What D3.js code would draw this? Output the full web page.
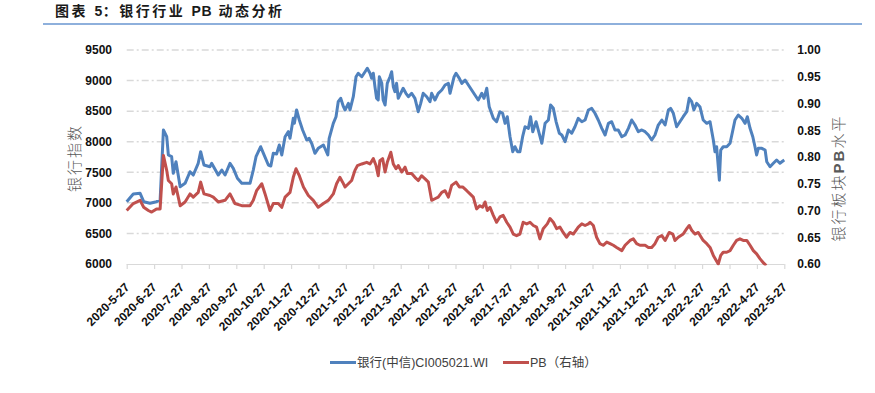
<!DOCTYPE html>
<html><head><meta charset="utf-8">
<script src="https://cdn.jsdelivr.net/npm/d3@7"></script>
<style>
html,body{margin:0;padding:0;background:#fff;}
svg{display:block;}
</style></head>
<body>
<svg id="c" width="875" height="393"></svg>
<script>
// x positions: months elapsed since 2020-05-27 (tick labels every month)
const tickLabels = ["2020-5-27","2020-6-27","2020-7-27","2020-8-27","2020-9-27","2020-10-27","2020-11-27","2020-12-27","2021-1-27","2021-2-27","2021-3-27","2021-4-27","2021-5-27","2021-6-27","2021-7-27","2021-8-27","2021-9-27","2021-10-27","2021-11-27","2021-12-27","2022-1-27","2022-2-27","2022-3-27","2022-4-27","2022-5-27"];
const leftTicks = [6000,6500,7000,7500,8000,8500,9000,9500];
const rightTicks = [0.60,0.65,0.70,0.75,0.80,0.85,0.90,0.95,1.00];

const bankIndexX = [0.00,0.24,0.49,0.62,0.85,1.09,1.22,1.34,1.46,1.52,1.64,1.70,1.80,1.95,2.13,2.31,2.43,2.61,2.70,2.82,3.04,3.10,3.34,3.47,3.59,3.77,3.89,4.04,4.20,4.50,4.62,4.72,4.89,4.99,5.17,5.26,5.35,5.47,5.57,5.66,5.78,5.90,5.96,6.08,6.12,6.20,6.30,6.42,6.57,6.66,6.75,6.87,6.99,7.18,7.34,7.39,7.54,7.64,7.72,7.81,7.91,7.97,8.09,8.15,8.27,8.37,8.45,8.58,8.70,8.78,8.88,8.94,9.00,9.06,9.12,9.18,9.22,9.31,9.36,9.43,9.51,9.61,9.67,9.73,9.79,9.85,9.91,10.00,10.09,10.19,10.28,10.40,10.52,10.64,10.73,10.82,10.95,11.07,11.13,11.25,11.37,11.50,11.62,11.74,11.80,11.95,12.02,12.14,12.23,12.35,12.47,12.59,12.71,12.83,12.96,13.04,13.14,13.23,13.38,13.50,13.62,13.72,13.81,13.89,13.99,14.09,14.17,14.26,14.35,14.45,14.54,14.66,14.74,14.82,14.94,15.02,15.15,15.27,15.39,15.47,15.57,15.67,15.79,15.88,16.00,16.12,16.24,16.36,16.48,16.61,16.73,16.85,16.97,17.09,17.21,17.34,17.46,17.58,17.70,17.82,17.94,18.07,18.19,18.31,18.43,18.55,18.67,18.80,18.92,19.04,19.16,19.28,19.40,19.53,19.65,19.77,19.85,19.95,20.07,20.19,20.31,20.44,20.53,20.62,20.70,20.80,20.92,21.04,21.17,21.29,21.41,21.47,21.53,21.59,21.63,21.68,21.77,21.90,22.02,22.11,22.20,22.32,22.45,22.57,22.65,22.75,22.85,22.93,22.99,23.05,23.18,23.30,23.36,23.48,23.60,23.72,23.84,23.96,24.00];
const bankIndex = [7019,7145,7156,7019,6993,7019,7047,8192,8082,7783,7755,7483,7673,7264,7320,7509,7455,7647,7837,7619,7591,7647,7455,7537,7455,7647,7565,7402,7320,7320,7537,7755,7918,7810,7619,7603,7810,7799,7946,7783,8082,8164,8056,8383,8301,8519,8355,8192,8028,8056,7974,7810,7892,7946,7783,8056,8301,8409,8654,8710,8573,8519,8628,8519,8736,9063,9119,9063,9145,9201,9119,9037,9119,8900,8710,8682,9063,8955,8682,8600,8955,9063,9145,8900,8818,8955,8710,8792,8874,8792,8736,8792,8710,8491,8628,8792,8736,8654,8792,8682,8792,8846,8928,8955,8792,9063,9119,9037,8955,9009,8928,8846,8764,8682,8792,8710,8874,8573,8383,8327,8491,8465,8301,8409,8082,7837,7918,7837,7837,8082,8245,8219,8409,8164,8327,8192,7974,8301,8355,8600,8546,8330,8138,8110,8000,8192,8138,8245,8383,8327,8355,8519,8546,8465,8355,8219,8110,8301,8327,8192,8192,8082,8110,8219,8355,8273,8164,8192,8164,8110,8028,8110,8273,8355,8273,8519,8546,8465,8245,8327,8409,8491,8710,8654,8519,8628,8573,8355,8301,8327,8028,7837,7918,7591,7370,7864,7918,7918,7974,8164,8355,8437,8383,8301,8409,8219,8082,7918,7783,7892,7892,7864,7673,7591,7647,7701,7647,7689,7701];

const pbX = [0.00,0.24,0.49,0.62,0.79,0.91,1.09,1.22,1.34,1.46,1.52,1.64,1.70,1.80,1.95,2.13,2.31,2.43,2.61,2.70,2.82,3.04,3.16,3.34,3.59,3.77,3.95,4.20,4.50,4.62,4.74,4.93,5.05,5.23,5.35,5.53,5.66,5.78,5.96,6.08,6.18,6.30,6.45,6.63,6.81,6.99,7.18,7.36,7.54,7.66,7.78,7.88,7.97,8.09,8.21,8.33,8.42,8.58,8.76,8.88,9.00,9.10,9.18,9.24,9.34,9.43,9.51,9.64,9.73,9.83,9.91,10.04,10.16,10.24,10.40,10.52,10.64,10.76,10.89,11.01,11.13,11.25,11.37,11.50,11.62,11.74,11.86,12.02,12.14,12.26,12.41,12.53,12.65,12.77,12.89,12.99,13.08,13.16,13.26,13.38,13.50,13.62,13.74,13.87,13.99,14.11,14.23,14.35,14.47,14.60,14.72,14.84,14.96,15.08,15.20,15.35,15.45,15.57,15.69,15.81,15.93,16.05,16.18,16.30,16.48,16.61,16.73,16.85,16.91,17.03,17.15,17.27,17.39,17.52,17.64,17.76,17.88,18.07,18.19,18.37,18.49,18.61,18.73,18.92,19.04,19.16,19.28,19.40,19.53,19.65,19.80,19.93,20.01,20.13,20.31,20.44,20.53,20.62,20.74,20.86,21.04,21.17,21.29,21.41,21.51,21.59,21.68,21.77,21.90,22.02,22.14,22.26,22.38,22.50,22.63,22.75,22.87,22.99,23.11,23.24,23.34];
const pb = [0.700,0.713,0.719,0.706,0.700,0.697,0.703,0.703,0.803,0.775,0.756,0.750,0.731,0.744,0.709,0.716,0.731,0.725,0.734,0.753,0.731,0.728,0.725,0.716,0.719,0.731,0.713,0.709,0.709,0.719,0.737,0.750,0.731,0.700,0.713,0.713,0.706,0.725,0.734,0.762,0.778,0.765,0.744,0.728,0.719,0.706,0.713,0.719,0.731,0.750,0.762,0.753,0.744,0.750,0.756,0.775,0.784,0.787,0.790,0.787,0.797,0.784,0.765,0.793,0.797,0.772,0.790,0.809,0.787,0.778,0.784,0.772,0.781,0.769,0.769,0.762,0.756,0.765,0.759,0.753,0.719,0.722,0.725,0.734,0.737,0.725,0.747,0.753,0.744,0.744,0.737,0.731,0.725,0.703,0.709,0.706,0.716,0.700,0.706,0.691,0.678,0.688,0.691,0.678,0.669,0.656,0.653,0.656,0.678,0.675,0.678,0.672,0.669,0.647,0.666,0.675,0.685,0.678,0.666,0.669,0.659,0.650,0.659,0.656,0.669,0.675,0.672,0.675,0.678,0.672,0.650,0.638,0.635,0.641,0.638,0.635,0.631,0.625,0.635,0.644,0.647,0.638,0.635,0.635,0.631,0.631,0.638,0.650,0.653,0.644,0.659,0.656,0.644,0.650,0.656,0.666,0.672,0.663,0.656,0.659,0.644,0.638,0.631,0.616,0.607,0.600,0.616,0.622,0.622,0.625,0.635,0.644,0.647,0.644,0.644,0.635,0.625,0.619,0.610,0.602,0.597];

const seriesNames = ["银行(中信)CI005021.WI","PB（右轴）"];
const colors = ["#4F81BD","#C0504D"];

const svg = d3.select("#c");
const L = 126.7, R = 784.3, T = 50, B = 264;
const x = d3.scaleLinear().domain([0, tickLabels.length - 1]).range([L, R]);
const yL = d3.scaleLinear().domain([6000, 9500]).range([B, T]);
const yR = d3.scaleLinear().domain([0.60, 1.00]).range([B, T]);

const numFont = "'Liberation Sans', Arial, sans-serif";
const cjkFont = "'Noto Sans CJK SC', 'Noto Sans', sans-serif";

// title
const title = svg.append("text").attr("x", 55).attr("y", 15.5)
  .attr("font-family", "'Liberation Sans', 'Noto Sans CJK SC', sans-serif")
  .attr("font-weight", "bold").attr("font-size", 14).attr("fill", "#1a1a1a");
[["图表 ", 2.5], ["5", 0.5], ["：银行行业 ", 2.5], ["PB", 0.5], [" 动态分析", 2.5]].forEach(([t, ls]) =>
  title.append("tspan").attr("letter-spacing", ls).text(t));
svg.append("line").attr("x1", 43).attr("x2", 862).attr("y1", 24).attr("y2", 24)
  .attr("stroke", "#8EB0DC").attr("stroke-width", 2);

// gridlines (left axis)
svg.append("g").selectAll("line").data(leftTicks.filter(d => d > 6000)).join("line")
  .attr("x1", L).attr("x2", R).attr("y1", d => yL(d)).attr("y2", d => yL(d))
  .attr("stroke", "#D9D9D9").attr("stroke-width", 1.5)
  .attr("stroke-dasharray", "7,3,2,3");

// left axis
const gl = svg.append("g").attr("transform", `translate(${L},0)`)
  .call(d3.axisLeft(yL).tickValues(leftTicks).tickSize(0).tickPadding(14.7).tickFormat(d3.format("d")));
gl.select(".domain").remove();
gl.selectAll("text").attr("font-family", numFont).attr("font-weight", "bold").attr("font-size", 12).attr("fill", "#111");

// right axis
const gr = svg.append("g").attr("transform", `translate(${R},0)`)
  .call(d3.axisRight(yR).tickValues(rightTicks).tickSize(0).tickPadding(13).tickFormat(d3.format(".2f")));
gr.select(".domain").remove();
gr.selectAll("text").attr("font-family", numFont).attr("font-weight", "bold").attr("font-size", 12).attr("fill", "#111");

// bottom axis
const gb = svg.append("g").attr("transform", `translate(0,${B})`)
  .call(d3.axisBottom(x).tickValues(d3.range(tickLabels.length)).tickSize(5).tickFormat(i => tickLabels[i]));
gb.select(".domain").attr("stroke", "#D9D9D9").attr("stroke-width", 1.2).attr("d", `M${L},0.5H${R}`);
gb.selectAll(".tick line").attr("stroke", "#D9D9D9").attr("stroke-width", 1.2);
gb.selectAll(".tick text")
  .attr("font-family", numFont).attr("font-weight", "bold").attr("font-size", 12).attr("fill", "#111")
  .attr("text-anchor", "end").attr("dy", null).attr("y", 0)
  .attr("transform", "translate(3,24) rotate(-45)");

// axis titles
svg.append("text").attr("transform", "translate(80,158) rotate(-90)")
  .attr("text-anchor", "middle").attr("font-family", cjkFont).attr("font-weight", 300)
  .attr("font-size", 15).attr("letter-spacing", 2).attr("fill", "#595959").text("银行指数");
const rt = svg.append("text").attr("transform", "translate(844,178) rotate(-90)")
  .attr("text-anchor", "middle").attr("font-family", cjkFont).attr("font-weight", 300)
  .attr("font-size", 15).attr("letter-spacing", 2).attr("fill", "#595959");
rt.append("tspan").text("银行板块");
rt.append("tspan").attr("font-family", numFont).attr("font-weight", "bold").text("PB");
rt.append("tspan").text("水平");

// clip
svg.append("clipPath").attr("id", "plot").append("rect")
  .attr("x", L - 5).attr("y", T - 10).attr("width", R - L + 10).attr("height", B - T + 10 + 1.5);

const line = (xs, ys, yScale) => d3.line().x((d, i) => x(xs[i])).y(d => yScale(d))(ys);

svg.append("path").attr("d", line(bankIndexX, bankIndex, yL))
  .attr("fill", "none").attr("stroke", colors[0]).attr("stroke-width", 3)
  .attr("stroke-linejoin", "round").attr("clip-path", "url(#plot)");
svg.append("path").attr("d", line(pbX, pb, yR))
  .attr("fill", "none").attr("stroke", colors[1]).attr("stroke-width", 3)
  .attr("stroke-linejoin", "round").attr("clip-path", "url(#plot)");

// legend
const legX = [330, 503];
const lg = svg.append("g");
seriesNames.forEach((name, i) => {
  lg.append("line").attr("x1", legX[i]).attr("x2", legX[i] + 26).attr("y1", 362.5).attr("y2", 362.5)
    .attr("stroke", colors[i]).attr("stroke-width", 3);
  lg.append("text").attr("x", legX[i] + 27).attr("y", 367)
    .attr("font-family", "'Liberation Sans', 'Noto Sans CJK SC', sans-serif")
    .attr("font-size", 12.5).attr("fill", "#404040").text(name);
});
</script>
</body></html>
